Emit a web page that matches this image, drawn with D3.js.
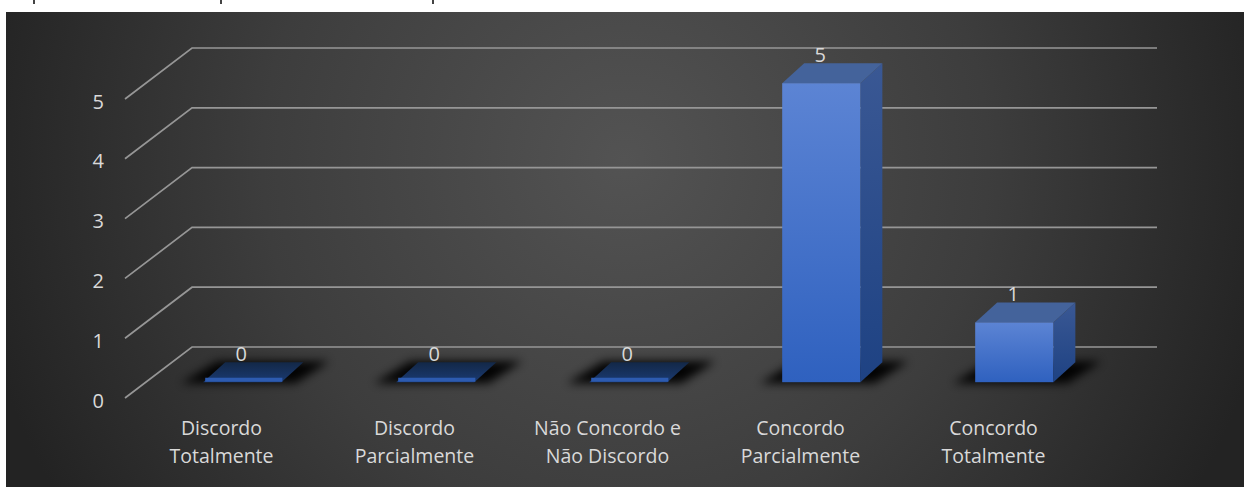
<!DOCTYPE html>
<html>
<head>
<meta charset="utf-8">
<script src="https://cdn.jsdelivr.net/npm/d3@7"></script>
<style>
  html, body { margin: 0; padding: 0; background: #ffffff; }
  svg { display: block; }
</style>
</head>
<body>
<svg id="chart" width="1244" height="487"></svg>
<script>
// ---- data ----
const categories = [
  ["Discordo", "Totalmente"],
  ["Discordo", "Parcialmente"],
  ["Não Concordo e", "Não Discordo"],
  ["Concordo", "Parcialmente"],
  ["Concordo", "Totalmente"]
];
const categoryKeys = categories.map(c => c.join(" "));
const values = [0, 0, 0, 5, 1];
const yTicks = [0, 1, 2, 3, 4, 5];

// ---- layout ----
const W = 1244, H = 487;
const svg = d3.select("#chart");
const defs = svg.append("defs");

// background radial gradient
const bg = defs.append("radialGradient").attr("id", "bg")
  .attr("gradientUnits", "userSpaceOnUse")
  .attr("cx", 625).attr("cy", 160).attr("r", 660);
bg.append("stop").attr("offset", 0).attr("stop-color", "#535353");
bg.append("stop").attr("offset", 0.55).attr("stop-color", "#3d3d3d");
bg.append("stop").attr("offset", 1).attr("stop-color", "#232323");

svg.append("rect").attr("x", 6).attr("y", 12).attr("width", W - 6).attr("height", H - 12)
  .attr("fill", "url(#bg)");

// tiny clipped text fragments at the very top (from content above the chart)
[33, 220, 432].forEach(x => {
  svg.append("rect").attr("x", x).attr("y", 0).attr("width", 2).attr("height", 4).attr("fill", "#444");
});

// gradients for bar faces
function vGrad(id, top, bottom) {
  const g = defs.append("linearGradient").attr("id", id)
    .attr("x1", 0).attr("y1", 0).attr("x2", 0).attr("y2", 1);
  g.append("stop").attr("offset", 0).attr("stop-color", top);
  g.append("stop").attr("offset", 1).attr("stop-color", bottom);
}
vGrad("front", "#5c84d4", "#2f61bf");
vGrad("side", "#3a5894", "#1e4283");
vGrad("flat", "#132847", "#1a3a72");
const blur = defs.append("filter").attr("id", "shadow")
  .attr("x", "-50%").attr("y", "-200%").attr("width", "200%").attr("height", "500%");
blur.append("feGaussianBlur").attr("stdDeviation", 5);

// 3D projection parameters
const floorLeft = 125, floorRight = 1090;   // front floor edge at z=0
const wallDx = 67, wallDy = 51;             // depth vector of full floor depth
const barZ0 = 0.31;                          // front of bars (fraction of depth)
const barDx = 22, barDy = 20;                // bar depth vector

const x = d3.scaleBand().domain(categoryKeys).range([floorLeft, floorRight]).paddingInner(0).paddingOuter(0);
const yFront = d3.scaleLinear().domain([0, 5]).range([398, 99]);   // value -> y at z=0
const barW = x.bandwidth() * 0.405;

const proj = (sx, sy, z) => [sx + z * wallDx, sy - z * wallDy];

// gridlines: left wall diagonal + back wall horizontal
const grid = svg.append("g").attr("stroke", "#969696").attr("stroke-width", 1.7).attr("fill", "none");
yTicks.forEach(t => {
  const f = [floorLeft, yFront(t)];
  const b = proj(floorLeft, yFront(t), 1);
  const br = proj(floorRight, yFront(t), 1);
  grid.append("path").attr("d", d3.line()([f, b, br]));
});

// y tick labels
svg.append("g").selectAll("text").data(yTicks).join("text")
  .attr("x", 104).attr("y", d => yFront(d) + 2)
  .attr("text-anchor", "end").attr("dominant-baseline", "central")
  .attr("font-family", "Open Sans").attr("font-size", 20).attr("fill", "#d9d9d9")
  .text(d => d);

// bars
const barsG = svg.append("g");
categoryKeys.forEach((k, i) => {
  const v = values[i];
  const cx = x(k) + x.bandwidth() / 2;
  const [fcx, fy0] = proj(cx, yFront(0), barZ0);
  const xl = fcx - barW / 2, xr = fcx + barW / 2;
  const yb = fy0, yt = fy0 - (yFront(0) - yFront(v));
  const g = barsG.append("g");
  // shadow on floor
  g.append("path")
    .attr("d", d3.line()([[xl - 22, yb + 1], [xr + 14, yb + 1], [xr + barDx + 26, yb - barDy - 1], [xl + barDx - 8, yb - barDy - 1]]) + "Z")
    .attr("fill", "#000").attr("opacity", 0.95).attr("filter", "url(#shadow)");
  if (v > 0) {
    // side face
    g.append("path")
      .attr("d", d3.line()([[xr, yb], [xr + barDx, yb - barDy], [xr + barDx, yt - barDy], [xr, yt]]) + "Z")
      .attr("fill", "url(#side)");
    // top face
    g.append("path")
      .attr("d", d3.line()([[xl, yt], [xr, yt], [xr + barDx, yt - barDy], [xl + barDx, yt - barDy]]) + "Z")
      .attr("fill", "#44639b");
    // front face
    g.append("rect").attr("x", xl).attr("y", yt).attr("width", barW).attr("height", yb - yt)
      .attr("fill", "url(#front)");
  } else {
    g.append("path")
      .attr("d", d3.line()([[xl, yb], [xr, yb], [xr + barDx, yb - barDy], [xl + barDx, yb - barDy]]) + "Z")
      .attr("fill", "url(#flat)");
    g.append("path")
      .attr("d", d3.line()([[xl + 2, yb - 2.5], [xr + 1, yb - 2.5]]))
      .attr("stroke", "#2d5bb0").attr("stroke-width", 4);
  }
  // data label
  g.append("text")
    .attr("x", fcx - 1).attr("y", yt - barDy - 1)
    .attr("text-anchor", "middle")
    .attr("font-family", "Open Sans").attr("font-size", 20).attr("fill", "#d9d9d9")
    .text(v);
});

// category labels
const labels = svg.append("g");
categoryKeys.forEach((k, i) => {
  const t = labels.append("text")
    .attr("text-anchor", "middle")
    .attr("font-family", "Open Sans").attr("font-size", 19.5).attr("fill", "#d9d9d9");
  categories[i].forEach((line, j) => {
    t.append("tspan").attr("x", x(k) + x.bandwidth() / 2).attr("y", 435 + j * 28).text(line);
  });
});
</script>
</body>
</html>
